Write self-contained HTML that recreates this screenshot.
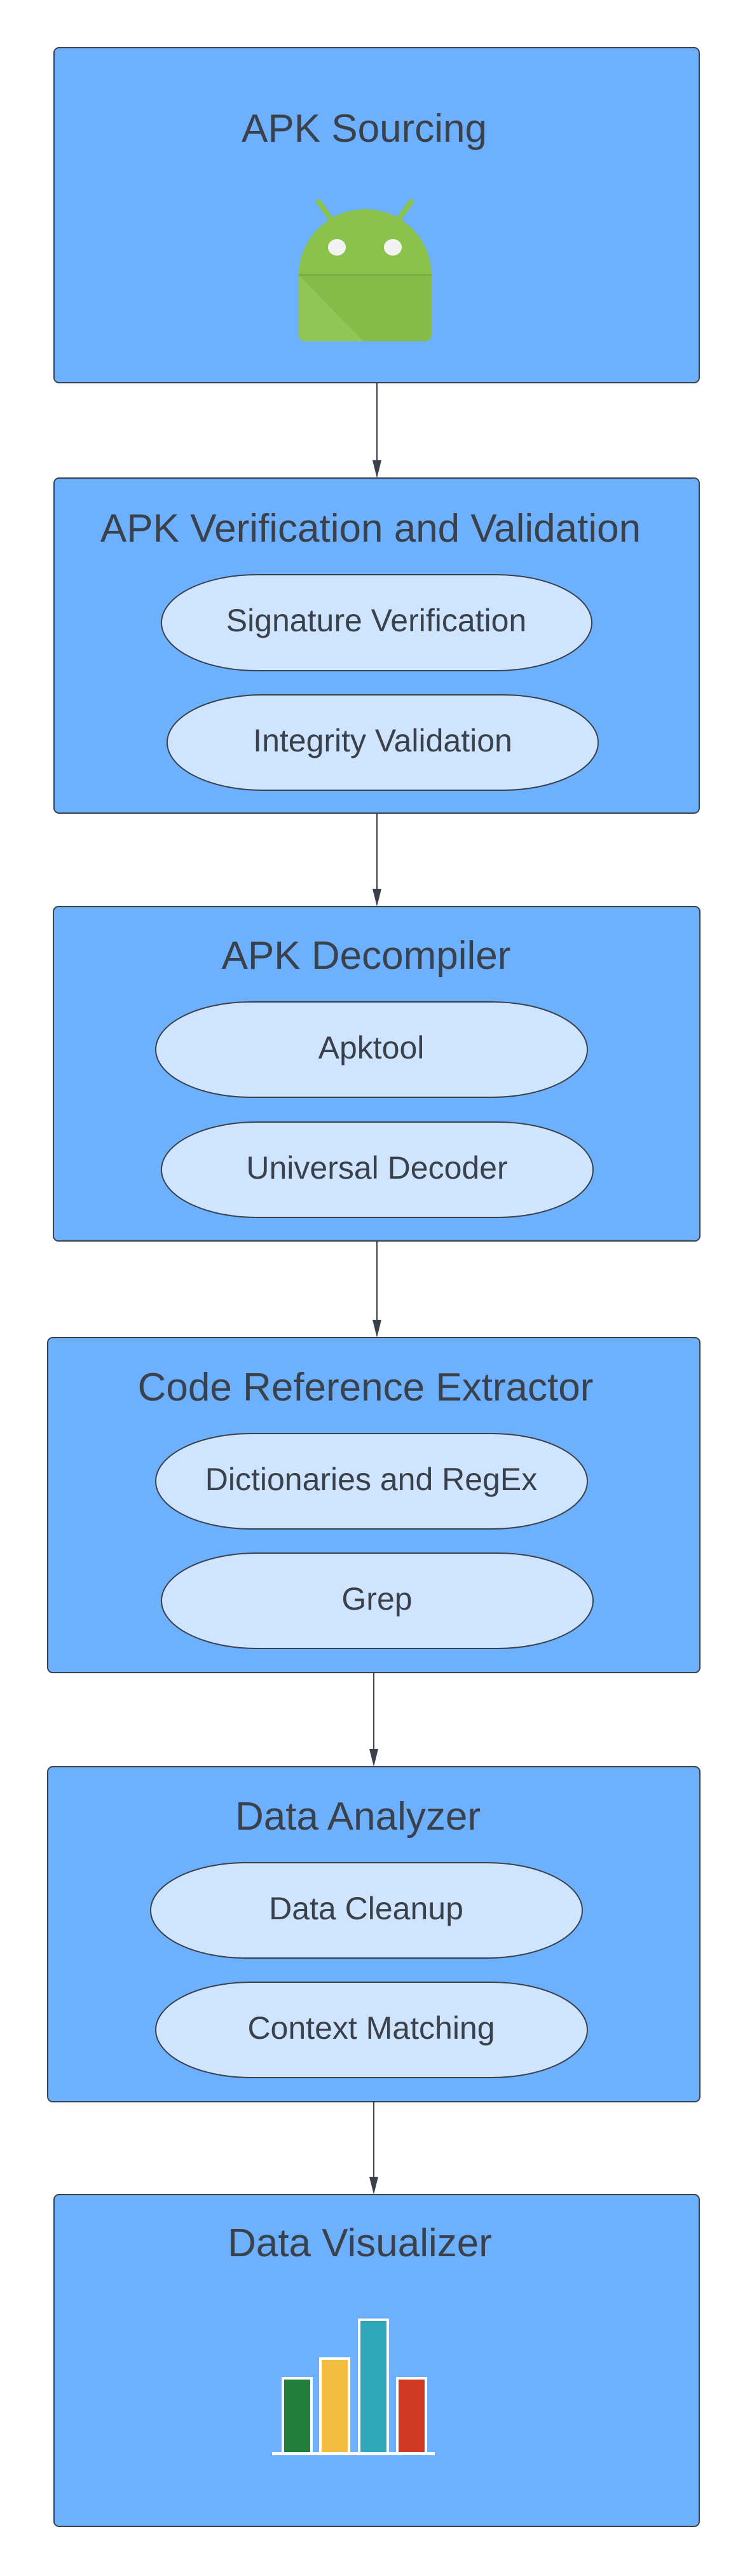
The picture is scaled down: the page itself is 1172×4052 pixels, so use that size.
<!DOCTYPE html>
<html><head><meta charset="utf-8"><style>
html,body{margin:0;padding:0;background:#fff;}
svg{display:block;}
text{font-family:"Liberation Sans",sans-serif;fill:#3a414a;}
</style></head><body>
<svg width="1172" height="4052" viewBox="0 0 1172 4052" xmlns="http://www.w3.org/2000/svg">
<g stroke="#3a414a" stroke-width="2" fill="#6db0fe">
<rect x="85" y="75" width="1015" height="527" rx="8"/>
<rect x="85" y="752" width="1015" height="527" rx="8"/>
<rect x="84" y="1426" width="1017" height="526" rx="8"/>
<rect x="75" y="2104" width="1026" height="527" rx="8"/>
<rect x="75" y="2779" width="1026" height="527" rx="8"/>
<rect x="85" y="3452" width="1015" height="522" rx="8"/>
</g>
<g stroke="#3a414a" stroke-width="2">
<line x1="593" y1="602" x2="593" y2="728"/>
<line x1="593" y1="1279" x2="593" y2="1402"/>
<line x1="593" y1="1952" x2="593" y2="2080"/>
<line x1="588" y1="2631" x2="588" y2="2755"/>
<line x1="588" y1="3306" x2="588" y2="3428"/>
</g>
<g fill="#3a414a">
<polygon points="586,724 600,724 593,752"/>
<polygon points="586,1398 600,1398 593,1426"/>
<polygon points="586,2076 600,2076 593,2104"/>
<polygon points="581,2751 595,2751 588,2779"/>
<polygon points="581,3424 595,3424 588,3452"/>
</g>
<g stroke="#3a414a" stroke-width="2" fill="#cfe4ff">
<rect x="254" y="904" width="677" height="151" rx="150" ry="75.5"/>
<rect x="263" y="1093" width="678" height="150" rx="150" ry="75"/>
<rect x="245" y="1576" width="679" height="150" rx="150" ry="75"/>
<rect x="254" y="1765" width="679" height="150" rx="150" ry="75"/>
<rect x="245" y="2255" width="679" height="150" rx="150" ry="75"/>
<rect x="254" y="2443" width="679" height="150" rx="150" ry="75"/>
<rect x="237" y="2930" width="679" height="150" rx="150" ry="75"/>
<rect x="245" y="3118" width="679" height="150" rx="150" ry="75"/>
</g>
<g font-size="62" text-anchor="middle">
<text x="573" y="223">APK Sourcing</text>
<text x="583" y="852">APK Verification and Validation</text>
<text x="576" y="1524">APK Decompiler</text>
<text x="575" y="2203">Code Reference Extractor</text>
<text x="563" y="2878">Data Analyzer</text>
<text x="566" y="3549">Data Visualizer</text>
</g>
<g font-size="50" text-anchor="middle">
<text x="592" y="993">Signature Verification</text>
<text x="602" y="1182">Integrity Validation</text>
<text x="584" y="1665">Apktool</text>
<text x="593" y="1854">Universal Decoder</text>
<text x="584" y="2344">Dictionaries and RegEx</text>
<text x="593" y="2532">Grep</text>
<text x="576" y="3019">Data Cleanup</text>
<text x="584" y="3207">Context Matching</text>
</g>
<g>
<line x1="501" y1="317" x2="521" y2="345" stroke="#8bc34a" stroke-width="8" stroke-linecap="round"/>
<line x1="647" y1="317" x2="627" y2="345" stroke="#8bc34a" stroke-width="8" stroke-linecap="round"/>
<path d="M470 433 A104.5 104 0 0 1 679 433 Z" fill="#8bc34a"/>
<path d="M470 433 H679 V525 Q679 537 667 537 H482 Q470 537 470 525 Z" fill="#84bb49"/>
<path d="M470 433 L572 537 H482 Q470 537 470 525 Z" fill="#8fc655"/>
<rect x="470" y="431" width="209" height="3" fill="#7aae42"/>
<ellipse cx="530" cy="389" rx="14" ry="13" fill="#f2f2f2"/>
<ellipse cx="618" cy="389" rx="14" ry="13" fill="#f2f2f2"/>
</g>
<g stroke="#fff" stroke-width="4">
<rect x="445" y="3741" width="45" height="118" fill="#237e3b"/>
<rect x="504" y="3710" width="45" height="149" fill="#f4bd40"/>
<rect x="565" y="3649" width="45" height="210" fill="#31a8b9"/>
<rect x="625" y="3741" width="45" height="118" fill="#d03a24"/>
</g>
<rect x="428" y="3857" width="256" height="5" fill="#fff"/>
</svg>
</body></html>
